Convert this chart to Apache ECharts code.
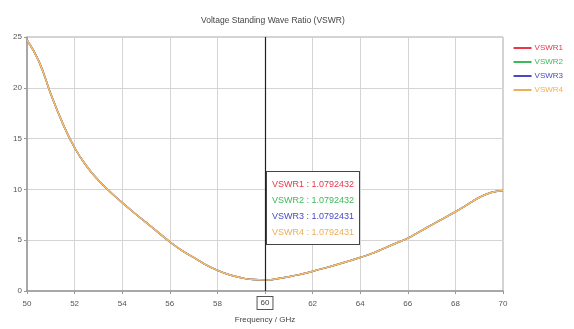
<!DOCTYPE html>
<html>
<head>
<meta charset="utf-8">
<script src="https://cdn.jsdelivr.net/npm/echarts@6/dist/echarts.min.js"></script>
<style>
  html, body { margin: 0; padding: 0; background: #fff; }
  #main { width: 574px; height: 329px; }
</style>
</head>
<body>
<div id="main"></div>
<script>
// frequency in GHz, 0.5 step
const freq = [50, 50.5, 51, 51.5, 52, 52.5, 53, 53.5, 54, 54.5, 55, 55.5, 56, 56.5, 57, 57.5, 58, 58.5, 59, 59.5,
  60, 60.5, 61, 61.5, 62, 62.5, 63, 63.5, 64, 64.5, 65, 65.5, 66, 66.5, 67, 67.5, 68, 68.5, 69, 69.5, 70];
const vswr1 = [24.7, 22.6, 19.4, 16.5, 14.1, 12.3, 10.9, 9.75, 8.7, 7.7, 6.75, 5.8, 4.85, 4.0, 3.3, 2.6, 2.04, 1.6, 1.3, 1.12,
  1.0792432, 1.2, 1.4, 1.65, 1.94, 2.25, 2.58, 2.93, 3.3, 3.7, 4.2, 4.7, 5.2, 5.85, 6.5, 7.15, 7.8, 8.5, 9.2, 9.7, 9.9];
const vswr2 = [24.7, 22.6, 19.4, 16.5, 14.1, 12.3, 10.9, 9.75, 8.7, 7.7, 6.75, 5.8, 4.85, 4.0, 3.3, 2.6, 2.04, 1.6, 1.3, 1.12,
  1.0792432, 1.2, 1.4, 1.65, 1.94, 2.25, 2.58, 2.93, 3.3, 3.7, 4.2, 4.7, 5.2, 5.85, 6.5, 7.15, 7.8, 8.5, 9.2, 9.7, 9.9];
const vswr3 = [24.7, 22.6, 19.4, 16.5, 14.1, 12.3, 10.9, 9.75, 8.7, 7.7, 6.75, 5.8, 4.85, 4.0, 3.3, 2.6, 2.04, 1.6, 1.3, 1.12,
  1.0792431, 1.2, 1.4, 1.65, 1.94, 2.25, 2.58, 2.93, 3.3, 3.7, 4.2, 4.7, 5.2, 5.85, 6.5, 7.15, 7.8, 8.5, 9.2, 9.7, 9.9];
const vswr4 = [24.7, 22.6, 19.4, 16.5, 14.1, 12.3, 10.9, 9.75, 8.7, 7.7, 6.75, 5.8, 4.85, 4.0, 3.3, 2.6, 2.04, 1.6, 1.3, 1.12,
  1.0792431, 1.2, 1.4, 1.65, 1.94, 2.25, 2.58, 2.93, 3.3, 3.7, 4.2, 4.7, 5.2, 5.85, 6.5, 7.15, 7.8, 8.5, 9.2, 9.7, 9.9];
const names = ['VSWR1', 'VSWR2', 'VSWR3', 'VSWR4'];
const colors = ['#e8364a', '#3cba5a', '#4848c8', '#eeae55'];
const markerFreq = 60;

const font = 'Liberation Sans';
const chart = echarts.init(document.getElementById('main'));

let seriesData = [vswr1, vswr2, vswr3, vswr4];
let series = seriesData.map((vals, i) => ({
  name: names[i],
  type: 'line',
  showSymbol: false,
  symbol: 'none',
  smooth: true,
  lineStyle: { width: 1.5, color: colors[i] },
  itemStyle: { color: colors[i] },
  data: freq.map((f, j) => [f, vals[j]])
}));

let option = {
  animation: false,
  color: colors,
  textStyle: { fontFamily: font },
  title: {
    text: 'Voltage Standing Wave Ratio (VSWR)',
    left: 196,
    top: 11,
    textStyle: { fontSize: 8.5, fontWeight: 'normal', color: '#444', fontFamily: font }
  },
  legend: {
    orient: 'vertical',
    right: 6,
    top: 39,
    icon: 'rect',
    itemWidth: 18,
    itemHeight: 2,
    itemGap: 6,
    textStyle: { fontSize: 8, fontFamily: font, padding: [0, 0, 0, -2] },
    data: names.map((n, i) => ({ name: n, textStyle: { color: colors[i] } }))
  },
  grid: {
    left: 27, right: 71, top: 37, bottom: 34,
    show: true, borderColor: '#a8a8a8', borderWidth: 1, backgroundColor: '#fff'
  },
  tooltip: {
    trigger: 'axis',
    triggerOn: 'none',
    alwaysShowContent: true,
    transitionDuration: 0,
    backgroundColor: '#fff',
    borderColor: '#444',
    borderWidth: 1,
    borderRadius: 0,
    padding: [4, 5],
    extraCssText: 'box-shadow:none;',
    axisPointer: {
      type: 'line',
      lineStyle: { color: '#222', width: 1.2, type: 'solid' },
      label: {
        show: true,
        backgroundColor: '#fff',
        borderColor: '#555',
        borderWidth: 1,
        borderRadius: 0,
        color: '#444',
        fontSize: 8,
        fontFamily: font,
        padding: [2, 3],
        margin: 6,
        formatter: p => String(Math.round(p.value))
      }
    },
    formatter: params => params.map(p =>
      '<div style="color:' + colors[p.seriesIndex] + ';font:9px ' + font + ';line-height:16px;white-space:nowrap">' +
      p.seriesName + ' : ' + p.value[1].toFixed(7) + '</div>').join(''),
    position: (point) => {
      let top = chart.convertToPixel({ gridIndex: 0 }, [markerFreq, 11.8]);
      return [point[0] + 1, top[1]];
    }
  },
  xAxis: {
    type: 'value',
    min: 50, max: 70, interval: 2,
    name: 'Frequency / GHz',
    nameLocation: 'middle',
    nameGap: 25,
    nameTextStyle: { fontSize: 8, color: '#444', fontFamily: font },
    axisLine: { lineStyle: { color: '#999', width: 1.5 } },
    axisTick: { show: true, length: 3, lineStyle: { color: '#999' } },
    axisLabel: { fontSize: 8, color: '#555', margin: 9, fontFamily: font },
    splitLine: { show: true, lineStyle: { color: '#d4d4d4', width: 1 } }
  },
  yAxis: {
    type: 'value',
    min: 0, max: 25, interval: 5,
    axisLine: { show: true, lineStyle: { color: '#999', width: 1.5 } },
    axisTick: { show: true, length: 3, lineStyle: { color: '#999' } },
    axisLabel: { fontSize: 8, color: '#555', margin: 5, fontFamily: font },
    splitLine: { show: true, lineStyle: { color: '#d4d4d4', width: 1 } }
  },
  series: series
};

chart.setOption(option);
chart.dispatchAction({ type: 'showTip', seriesIndex: 3, dataIndex: freq.indexOf(markerFreq) });
window.addEventListener('resize', chart.resize);
</script>
</body>
</html>
